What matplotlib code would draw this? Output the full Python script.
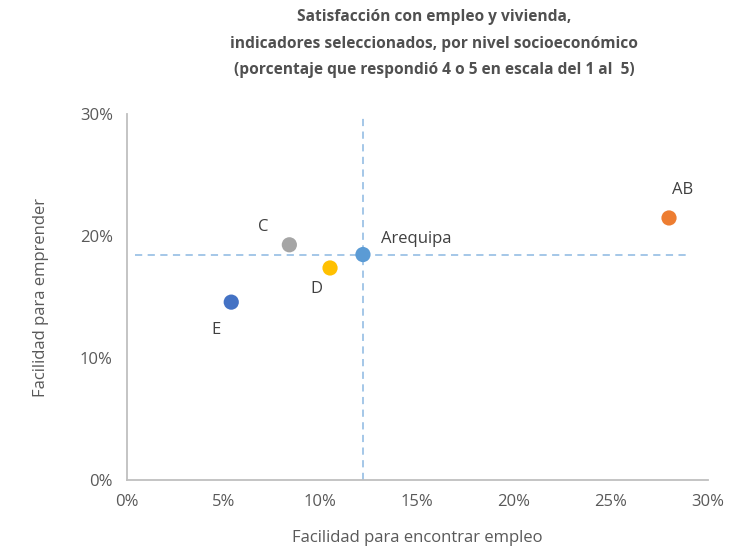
import matplotlib
matplotlib.use("Agg")
import matplotlib.pyplot as plt
from matplotlib.ticker import PercentFormatter

# datos
grupos = ["E", "C", "D", "Arequipa", "AB"]
empleo = [5.4, 8.4, 10.5, 12.2, 28.0]
emprender = [14.6, 19.3, 17.4, 18.5, 21.5]
colores = ["#4472C4", "#A5A5A5", "#FFC000", "#5B9BD5", "#ED7D31"]
ref_x = 12.2
ref_y = 18.5

plt.rcParams["font.family"] = ["Open Sans", "DejaVu Sans"]
txt = "#595959"

fig = plt.figure(figsize=(7.45, 5.52), dpi=100)
ax = fig.add_axes([0.170, 0.130, 0.780, 0.663])

ax.axvline(ref_x, color="#9DC3E6", ls=(0, (4, 3)), lw=1.3, zorder=1)
ax.axhline(ref_y, color="#9DC3E6", ls=(0, (4, 3)), lw=1.3, xmin=0.015, xmax=0.965, zorder=1)

ax.scatter(empleo, emprender, s=120, c=colores, zorder=3, linewidths=0)

# posiciones de las etiquetas (desplazamiento en puntos)
offs = {"E": (-11, -20), "C": (-19, 13), "D": (-10, -15), "Arequipa": (13, 11), "AB": (10, 20)}
for g, x, y in zip(grupos, empleo, emprender):
    dx, dy = offs[g]
    ax.annotate(g, (x, y), xytext=(dx, dy), textcoords="offset points",
                ha="left" if g == "Arequipa" else "center", va="center",
                fontsize=12, color="#404040")

ax.set_xlim(0, 30)
ax.set_ylim(0, 30)
ax.set_xticks(range(0, 31, 5))
ax.set_yticks(range(0, 31, 10))
ax.xaxis.set_major_formatter(PercentFormatter(decimals=0))
ax.yaxis.set_major_formatter(PercentFormatter(decimals=0))
ax.tick_params(length=0, labelsize=12, colors=txt, pad=10)

for s in ["top", "right"]:
    ax.spines[s].set_visible(False)
for s in ["left", "bottom"]:
    ax.spines[s].set_color("#BFBFBF")
    ax.spines[s].set_linewidth(1.3)

ax.set_xlabel("Facilidad para encontrar empleo", fontsize=12, color=txt, labelpad=14)
ax.set_ylabel("Facilidad para emprender", fontsize=12, color=txt, labelpad=22)

fig.suptitle("Satisfacción con empleo y vivienda,\nindicadores seleccionados, por nivel socioeconómico\n"
             "(porcentaje que respondió 4 o 5 en escala del 1 al  5)",
             x=0.583, y=0.984, fontsize=11.2, fontweight="bold", color="#505050", linespacing=1.9)

fig.savefig("out.png", dpi=100, facecolor="white")
